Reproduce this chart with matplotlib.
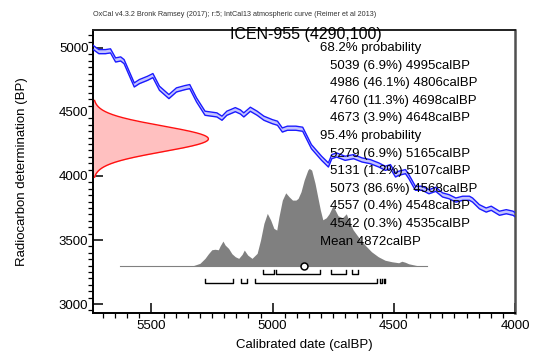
import numpy as np
import matplotlib
matplotlib.use("Agg")
import matplotlib.pyplot as plt

plt.rcParams['font.family'] = ['Liberation Sans', 'DejaVu Sans']

# measurement
c14_mean = 4290
c14_sigma = 100

# IntCal13 curve (calBP, BP)
curve_cal = [5745, 5717, 5690, 5669, 5648, 5627, 5613, 5571, 5550, 5516, 5494,
             5467, 5428, 5397, 5362, 5342, 5314, 5279, 5230, 5209, 5189, 5170,
             5154, 5133, 5119, 5092, 5064, 5036, 5001, 4980, 4960, 4939, 4904,
             4876, 4840, 4798, 4770, 4756, 4736, 4701, 4666, 4631, 4597, 4562,
             4535, 4514, 4493, 4480, 4452, 4438, 4411, 4383, 4355, 4327, 4299,
             4272, 4244, 4216, 4188, 4175, 4147, 4119, 4098, 4064, 4036, 4008, 3988]
curve_bp = [5010, 4971, 4971, 4977, 4906, 4914, 4893, 4711, 4737, 4763, 4784,
            4685, 4620, 4672, 4690, 4698, 4594, 4490, 4477, 4451, 4490, 4505,
            4518, 4500, 4477, 4521, 4490, 4451, 4424, 4412, 4359, 4373, 4373,
            4365, 4229, 4138, 4086, 4151, 4164, 4138, 4151, 4125, 4112, 4086,
            4060, 4073, 4008, 4021, 4034, 3995, 3904, 3904, 3877, 3896, 3852,
            3838, 3812, 3826, 3826, 3812, 3760, 3734, 3748, 3709, 3721, 3709, 3682]
curve_err = 16

# calibrated probability (relative)
prob_cal = [5329, 5300, 5279, 5265, 5251, 5238, 5224, 5217, 5205, 5196, 5182,
            5168, 5154, 5140, 5126, 5117, 5103, 5085, 5064, 5050, 5036, 5022,
            5008, 4995, 4983, 4974, 4960, 4946, 4932, 4918, 4904, 4895, 4883,
            4870, 4855, 4849, 4839, 4825, 4814, 4803, 4793, 4779, 4767, 4751,
            4730, 4712, 4696, 4682, 4668, 4647, 4620, 4592, 4564, 4536, 4508,
            4480, 4467, 4453, 4439, 4411, 4400]
prob_val = [0, 2.4, 7.4, 12, 16, 16.5, 16, 19.7, 24.7, 20.7, 17.4,
            12, 9, 7.4, 11.4, 15.7, 10.7, 7.4, 12.4, 25.7, 42.4, 52.4,
            45.7, 37.4, 35.7, 49, 65.7, 73, 69, 65.7, 65.7, 67.4, 74,
            85.7, 95.7, 97.4, 95.7, 82.4, 69, 55.7, 46, 48, 52, 60,
            50, 48, 52, 43, 36, 29, 21, 14, 9, 5.5, 4,
            3, 4.5, 3.5, 2, 0.5, 0]
prob_range = (5630, 4365)
cal_mean = 4872

ranges_68 = [(5039, 4995), (4986, 4806), (4760, 4698), (4673, 4648)]
ranges_95 = [(5279, 5165), (5131, 5107), (5073, 4568), (4557, 4548), (4542, 4535)]

text_lines = [
    "68.2% probability",
    "  5039 (6.9%) 4995calBP",
    "  4986 (46.1%) 4806calBP",
    "  4760 (11.3%) 4698calBP",
    "  4673 (3.9%) 4648calBP",
    "95.4% probability",
    "  5279 (6.9%) 5165calBP",
    "  5131 (1.2%) 5107calBP",
    "  5073 (86.6%) 4568calBP",
    "  4557 (0.4%) 4548calBP",
    "  4542 (0.3%) 4535calBP",
    "Mean 4872calBP",
]

W, H = 533, 356
fig = plt.figure(figsize=(W / 100, H / 100), dpi=100)
ax = fig.add_axes([93.3 / W, 1 - 313 / H, (515 - 93.3) / W, (313 - 30) / H])
xmin, xmax = 5740, 4000
ymin, ymax = 2930, 5140
ax.set_xlim(xmin, xmax)
ax.set_ylim(ymin, ymax)

# calibration curve
cc = np.array(curve_cal)
cb = np.array(curve_bp)
ax.fill_between(cc, cb - curve_err, cb + curve_err, color='#c4c4ff', lw=0, zorder=2)
ax.plot(cc, cb + curve_err, color='#1a1aff', lw=1.0, zorder=3)
ax.plot(cc, cb - curve_err, color='#1a1aff', lw=1.0, zorder=3)

# radiocarbon measurement on the y axis
yy = np.linspace(c14_mean - 3 * c14_sigma, c14_mean + 3 * c14_sigma, 200)
gauss = np.exp(-0.5 * ((yy - c14_mean) / c14_sigma) ** 2)
gauss_width = 475
ax.fill_betweenx(yy, xmin, xmin - gauss * gauss_width, color='#ffc0c0', lw=0, zorder=2)
ax.plot(xmin - gauss * gauss_width, yy, color='#ff1010', lw=1.0, zorder=3)

# calibrated distribution
base = 3299
scale = 760 / max(prob_val)
pc = np.array(prob_cal)
pv = np.array(prob_val) * scale
ax.fill_between(pc, base, base + pv, color='#808080', lw=0, zorder=2)
ax.plot(prob_range, [base, base], color='#808080', lw=0.8, zorder=2)
ax.plot([cal_mean], [base], 'o', ms=5, mfc='white', mec='black', mew=1.1, zorder=5)

# range brackets
def brackets(ranges, y, tick):
    for a, b in ranges:
        ax.plot([a, a, b, b], [y + tick, y, y, y + tick], color='black', lw=1.0, zorder=4)

brackets(ranges_68, 3234, 30)
brackets(ranges_95, 3162, 30)

# axes styling
for s in ax.spines.values():
    s.set_linewidth(1.4)
ax.spines['top'].set_color('#202020')
ax.spines['right'].set_color('#505050')
ax.spines['right'].set_linewidth(1.8)
ax.set_xticks([5500, 5000, 4500, 4000])
ax.set_xticks(np.arange(5700, 4000, -50), minor=True)
ax.set_yticks([3000, 3500, 4000, 4500, 5000])
ax.set_yticks(np.arange(2950, 5150, 50), minor=True)
ax.tick_params(direction='in', labelsize=9.5, width=1.1, top=False, right=False)
ax.tick_params(which='major', length=7)
ax.tick_params(which='minor', length=3.5, width=0.9)
ax.tick_params(axis='x', pad=5)
ax.set_xlabel('Calibrated date (calBP)', fontsize=9.5, labelpad=5)
ax.set_ylabel('Radiocarbon determination (BP)', fontsize=9.5, labelpad=22)

fig.text(93 / W, 1 - 15 / H, 'OxCal v4.3.2 Bronk Ramsey (2017); r:5; IntCal13 atmospheric curve (Reimer et al 2013)',
         fontsize=5.2, va='center', ha='left', color='#333333')
fig.text(306 / W, 1 - 34 / H, 'ICEN-955 (4290,100)', fontsize=11.5, va='center', ha='center')

for i, line in enumerate(text_lines):
    indent = line.startswith('  ')
    x = 330 if indent else 320.5
    fig.text(x / W, 1 - (48 + i * 17.6) / H, line.strip(), fontsize=9.5,
             va='center', ha='left', zorder=10)

fig.savefig('out.png', dpi=100)
